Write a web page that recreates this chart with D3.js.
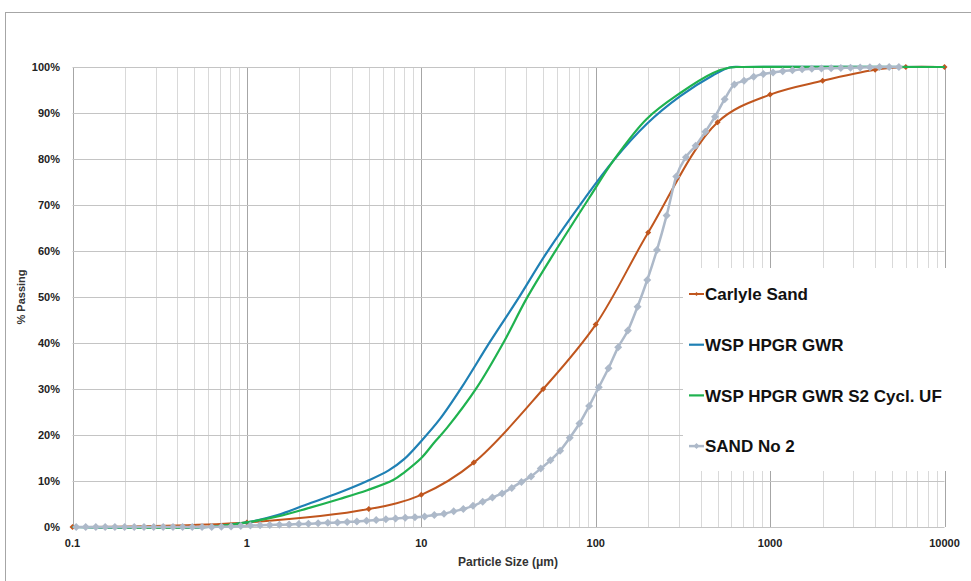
<!DOCTYPE html>
<html>
<head>
<meta charset="utf-8">
<script src="https://cdn.jsdelivr.net/npm/d3@7"></script>
<style>
  body { margin: 0; background: #fff; }
  svg { font-family: "Liberation Sans", Arial, sans-serif; }
</style>
</head>
<body>
<svg width="971" height="581"></svg>
<script>
// Carlyle Sand (sieve points)
const carlyleSize = [0.1, 1, 5, 10, 20, 50, 100, 200, 500, 1000, 2000, 4000, 6000, 10000];
const carlylePct  = [0, 1, 3.9, 7, 14, 30, 44, 64, 88, 94, 97, 99.4, 100, 100];

// WSP HPGR GWR
const gwrSize = [0.1, 0.6, 1, 1.5, 2.2, 3.4, 4.9, 6.5, 8, 10, 12.8, 17, 24.8, 36, 52.3, 86.8, 126, 196, 304, 471, 587, 700, 10000];
const gwrPct  = [0, 0, 1.0, 2.6, 4.9, 7.5, 10.0, 12.3, 14.8, 18.7, 23.5, 30.3, 40.3, 49.7, 59.6, 71.5, 79.6, 87.6, 93.6, 98.2, 99.9, 100, 100];

// WSP HPGR GWR S2 Cycl. UF
const ufSize = [0.1, 0.6, 1, 1.5, 2.2, 3.4, 4.9, 6.9, 8, 10, 12, 14, 20.8, 29.5, 40.2, 58.3, 92.7, 126, 196, 304, 471, 587, 700, 10000];
const ufPct  = [0, 0, 1.0, 2.3, 4.0, 6.1, 8.0, 10.2, 11.9, 15.0, 18.6, 21.5, 30.3, 40, 49.7, 59.8, 71.8, 79.6, 88.7, 94.3, 98.7, 99.9, 100, 100];

// SAND No 2 (laser size classes)
const sandSize = [0.105, 0.119, 0.136, 0.154, 0.175, 0.199, 0.226, 0.257, 0.292, 0.331,
  0.377, 0.428, 0.486, 0.553, 0.628, 0.714, 0.811, 0.922, 1.047, 1.19,
  1.352, 1.537, 1.746, 1.984, 2.254, 2.562, 2.911, 3.308, 3.758, 4.271,
  4.853, 5.514, 6.266, 7.12, 8.091, 9.194, 10.45, 11.87, 13.49, 15.33,
  17.42, 19.79, 22.49, 25.55, 29.04, 33.0, 37.5, 42.6, 48.4, 55.0,
  62.5, 71.0, 80.7, 91.7, 104.2, 118.4, 134.6, 152.9, 173.8, 197.5,
  224.4, 255.0, 289.7, 329.2, 374.1, 425.1, 483.1, 548.9, 623.7, 708.8,
  805.4, 915.2, 1040, 1182, 1343, 1526, 1734, 1970, 2239, 2544,
  2891, 3285, 3733, 4241, 4819, 5476];
const sandPct = [0, 0, 0, 0, 0, 0, 0, 0, 0, 0,
  0, 0, 0, 0, 0.02, 0.05, 0.1, 0.2, 0.3, 0.4,
  0.45, 0.5, 0.55, 0.65, 0.7, 0.8, 0.9, 1.0, 1.1, 1.2,
  1.35, 1.5, 1.7, 1.85, 2.0, 2.1, 2.3, 2.6, 2.9, 3.4,
  3.9, 4.6, 5.5, 6.4, 7.3, 8.5, 9.8, 11.0, 12.7, 14.5,
  16.6, 19.4, 22.5, 26.3, 30.4, 34.5, 39.1, 42.7, 47.9, 53.7,
  60.2, 67.7, 76.2, 80.4, 82.9, 85.9, 89.2, 93.0, 96.2, 97.0,
  97.9, 98.5, 98.8, 99.1, 99.3, 99.5, 99.6, 99.7, 99.75, 99.8,
  99.85, 99.9, 99.95, 100, 100, 100];

const yTicks = [0, 10, 20, 30, 40, 50, 60, 70, 80, 90, 100];
const xTickLabels = ["0.1", "1", "10", "100", "1000", "10000"];

const svg = d3.select("svg");

const x = d3.scaleLog().domain([0.1, 10000]).range([72.5, 944.5]);
const y = d3.scaleLinear().domain([0, 100]).range([527, 67]);

// chart border
svg.append("rect")
  .attr("x", 5.5).attr("y", 12.5)
  .attr("width", 1000).attr("height", 600)
  .attr("fill", "#fff")
  .attr("stroke", "#a6a6a6");

// vertical gridlines
const grid = svg.append("g");
const xt = x.ticks();
grid.selectAll("line.vx")
  .data(xt)
  .join("line")
  .attr("x1", d => Math.round(x(d)) + 0.5)
  .attr("x2", d => Math.round(x(d)) + 0.5)
  .attr("y1", y(100)).attr("y2", y(0))
  .attr("stroke", d => Math.abs(Math.log10(d) - Math.round(Math.log10(d))) < 1e-9 ? "#a6a6a6" : "#d9d9d9")
  .attr("stroke-width", 1);

// horizontal gridlines
grid.selectAll("line.hy")
  .data(yTicks)
  .join("line")
  .attr("x1", x(0.1)).attr("x2", x(10000))
  .attr("y1", d => Math.round(y(d)) + 0.5)
  .attr("y2", d => Math.round(y(d)) + 0.5)
  .attr("stroke", "#c4c4c4")
  .attr("stroke-width", 1);

// axes labels
svg.append("g")
  .selectAll("text")
  .data(yTicks)
  .join("text")
  .attr("x", 60)
  .attr("y", d => y(d))
  .attr("dy", "0.36em")
  .attr("text-anchor", "end")
  .attr("font-size", 11)
  .attr("font-weight", "bold")
  .attr("fill", "#222")
  .text(d => d + "%");

svg.append("g")
  .selectAll("text")
  .data(xTickLabels)
  .join("text")
  .attr("x", d => x(+d))
  .attr("y", 547)
  .attr("text-anchor", "middle")
  .attr("font-size", 11)
  .attr("font-weight", "bold")
  .attr("fill", "#222")
  .text(d => d);

svg.append("text")
  .attr("x", 508).attr("y", 566)
  .attr("text-anchor", "middle")
  .attr("font-size", 12)
  .attr("font-weight", "bold")
  .attr("fill", "#333")
  .text("Particle Size (\u03bcm)");

svg.append("text")
  .attr("transform", "translate(25,297) rotate(-90)")
  .attr("text-anchor", "middle")
  .attr("font-size", 11)
  .attr("font-weight", "bold")
  .attr("fill", "#333")
  .text("% Passing");

// series
const zip = (s, p) => s.map((v, i) => [v, p[i]]);
const series = [
  { name: "Carlyle Sand", data: zip(carlyleSize, carlylePct), color: "#c0561e", width: 2, marker: 3, smooth: true },
  { name: "WSP HPGR GWR", data: zip(gwrSize, gwrPct), color: "#1f80b4", width: 2.2, marker: 0, smooth: true },
  { name: "WSP HPGR GWR S2 Cycl. UF", data: zip(ufSize, ufPct), color: "#1fb24f", width: 2.2, marker: 0, smooth: true },
  { name: "SAND No 2", data: zip(sandSize, sandPct), color: "#adb9c9", width: 2.5, marker: 4, smooth: false }
];

const smoothLine = d3.line()
  .x(d => x(d[0]))
  .y(d => y(d[1]))
  .curve(d3.curveCatmullRom.alpha(0.5));

const plainLine = d3.line()
  .x(d => x(d[0]))
  .y(d => y(d[1]))
  .curve(d3.curveMonotoneX);

const diamond = r => `M0,${-r}L${r},0L0,${r}L${-r},0Z`;

series.forEach(s => {
  const g = svg.append("g");
  g.append("path")
    .attr("d", (s.smooth ? smoothLine : plainLine)(s.data))
    .attr("fill", "none")
    .attr("stroke", s.color)
    .attr("stroke-width", s.width)
    .attr("stroke-linejoin", "round");
  if (s.marker) {
    g.selectAll("path.m")
      .data(s.data)
      .join("path")
      .attr("class", "m")
      .attr("transform", d => `translate(${x(d[0])},${y(d[1])})`)
      .attr("d", diamond(s.marker))
      .attr("fill", s.color);
  }
});

// legend
svg.append("rect")
  .attr("x", 683).attr("y", 268)
  .attr("width", 282).attr("height", 203)
  .attr("fill", "#fff");

const legend = svg.append("g")
  .selectAll("g")
  .data(series)
  .join("g")
  .attr("transform", (d, i) => `translate(689,${294 + i * 50.7})`);

legend.append("line")
  .attr("x1", 0).attr("x2", 15)
  .attr("stroke", d => d.color)
  .attr("stroke-width", d => d.width);

legend.filter(d => d.marker)
  .append("path")
  .attr("transform", "translate(7.5,0)")
  .attr("d", d => diamond(d.marker - 1))
  .attr("fill", d => d.color);

legend.append("text")
  .attr("x", 16)
  .attr("dy", "0.36em")
  .attr("font-size", 17)
  .attr("font-weight", "bold")
  .attr("fill", "#111")
  .text(d => d.name);
</script>
</body>
</html>
